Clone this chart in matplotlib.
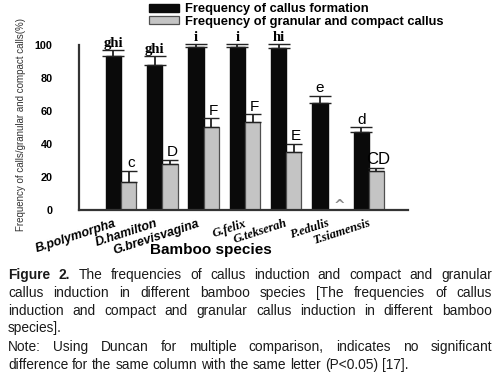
import matplotlib
matplotlib.use('Agg')
import matplotlib.pyplot as plt
import numpy as np

# data
species = ['B.polymorpha', 'D.hamilton', 'G.brevisvagina', 'G.felix',
           'G.tekserah', 'P.edulis', 'T.siamensis']
callus = [93.3, 88, 99, 99, 98, 65, 47.5]
callus_err = [3.7, 5.3, 1.4, 1.4, 2.4, 4, 2.5]
callus_letters = ['ghi', 'ghi', 'i', 'i', 'hi', 'e', 'd']
compact = [16.8, 27.7, 50.5, 53.5, 35.3, 0, 23.6]
compact_err = [7, 2.6, 5.2, 4.5, 4.7, 0, 1.9]
compact_letters = ['c', 'D', 'F', 'F', 'E', '', 'CD']

caption = [
    "Figure 2. The frequencies of callus induction and compact and granular",
    "callus induction in different bamboo species [The frequencies of callus",
    "induction and compact and granular callus induction in different bamboo",
    "species].",
    "Note: Using Duncan for multiple comparison, indicates no significant",
    "difference for the same column with the same letter (P<0.05) [17].",
]
justified = [True, True, True, False, True, False]

fig = plt.figure(figsize=(5, 3.81), dpi=100)
ax = fig.add_axes([0.158, 0.449, 0.658, 0.433])

x = np.arange(len(species))
w = 0.37
ax.bar(x - w / 2, callus, w, color='#0a0a0a', edgecolor='#0a0a0a',
       label='Frequency of callus formation')
ax.bar(x + w / 2, compact, w, color='#c4c4c4', edgecolor='#505050', linewidth=0.9,
       label='Frequency of granular and compact callus')

zeros = [0] * len(x)
ax.errorbar(x - w / 2, callus, yerr=[zeros, callus_err], fmt='none',
            ecolor='#222222', elinewidth=1.3, capsize=8, capthick=1.0, clip_on=False)
m = np.array(compact) > 0
ax.errorbar((x + w / 2)[m], np.array(compact)[m],
            yerr=[np.zeros(m.sum()), np.array(compact_err)[m]], fmt='none',
            ecolor='#222222', elinewidth=1.3, capsize=6, capthick=1.0, clip_on=False)

for i in range(len(x)):
    top = callus[i] + callus_err[i]
    lab = callus_letters[i]
    if lab in ('ghi', 'i', 'hi'):
        ax.text(x[i] - w / 2, top, lab, ha='center', va='bottom',
                family='Liberation Serif', fontweight='bold', fontsize=10.5, clip_on=False)
    else:
        ax.text(x[i] - w / 2, top + 0.5, lab, ha='center', va='bottom',
                family='Liberation Sans', fontsize=11)
    if compact_letters[i]:
        ax.text(x[i] + w / 2 + 0.05, compact[i] + compact_err[i] + 0.3, compact_letters[i],
                ha='center', va='bottom', family='Liberation Sans',
                fontsize=12 if compact_letters[i] == 'CD' else 11)
# missing value marker for P.edulis
ax.text(x[5] + w / 2 + 0.1, 2.5, '^', ha='center', va='center', color='#888888',
        fontsize=10, fontweight='bold')

ax.set_xlim(-1.02, 6.95)
ax.set_ylim(0, 100)
ax.spines['top'].set_visible(False)
ax.spines['right'].set_visible(False)
ax.spines['left'].set_linewidth(1.6)
ax.spines['bottom'].set_linewidth(1.6)
ax.spines['left'].set_color('#333333')
ax.spines['bottom'].set_color('#333333')
ax.set_xticks([])
ax.set_yticks([0, 20, 40, 60, 80, 100])
ax.tick_params(axis='y', length=0, pad=19)
for t in ax.get_yticklabels():
    t.set_fontweight('bold')
    t.set_fontsize(7.8)
    t.set_family('Liberation Sans')

for i, name in enumerate(species):
    if i < 3:
        kw = dict(family='Liberation Sans', fontweight='bold', fontstyle='italic', fontsize=9)
        dx = -0.16
    else:
        kw = dict(family='Liberation Serif', fontweight='bold', fontstyle='italic', fontsize=9)
        dx = -0.02
    ax.text(x[i] + dx, -4.5, name, ha='right', va='top', rotation=18,
            rotation_mode='anchor', clip_on=False, **kw)

ax.text(0.40, -0.24, 'Bamboo species', transform=ax.transAxes, ha='center', va='center',
        family='Liberation Sans', fontweight='bold', fontsize=11)
fig.text(0.042, 0.672, 'Frequency of calls/granular and compact calls(%)', rotation=90,
         ha='center', va='center', family='Liberation Sans', fontsize=7, color='#333333')

ax.legend(loc='upper left', bbox_to_anchor=(0.288, 1.005), bbox_transform=fig.transFigure,
          frameon=False, handlelength=2.3, handleheight=0.55, labelspacing=0.05,
          handletextpad=0.5, borderaxespad=0,
          prop={'family': 'Liberation Sans', 'weight': 'bold', 'size': 9.3})

# justified caption
renderer = fig.canvas.get_renderer()
left, right = 8, 492
fs = 9.9
ys = [275, 293, 311, 328, 347, 365]
for line, just, ypx in zip(caption, justified, ys):
    words = line.split(' ')
    texts = []
    for j, wd in enumerate(words):
        bold = line.startswith('Figure 2.') and j < 2
        t = fig.text(0, 1 - ypx / 381, wd, ha='left', va='center', family='Liberation Sans',
                     fontsize=fs, color='#1a1a1a', fontweight='bold' if bold else 'normal')
        texts.append(t)
    widths = [t.get_window_extent(renderer).width for t in texts]
    space = fig.text(0, 0, 'a a', family='Liberation Sans', fontsize=fs)
    sw = space.get_window_extent(renderer).width
    space.set_text('aa')
    sw -= space.get_window_extent(renderer).width
    space.remove()
    if just and len(words) > 1:
        gap = (right - left - sum(widths)) / (len(words) - 1)
    else:
        gap = sw
    xp = left
    for t, wdt in zip(texts, widths):
        t.set_x(xp / 500)
        xp += wdt + gap

fig.savefig('out.png', dpi=100)
